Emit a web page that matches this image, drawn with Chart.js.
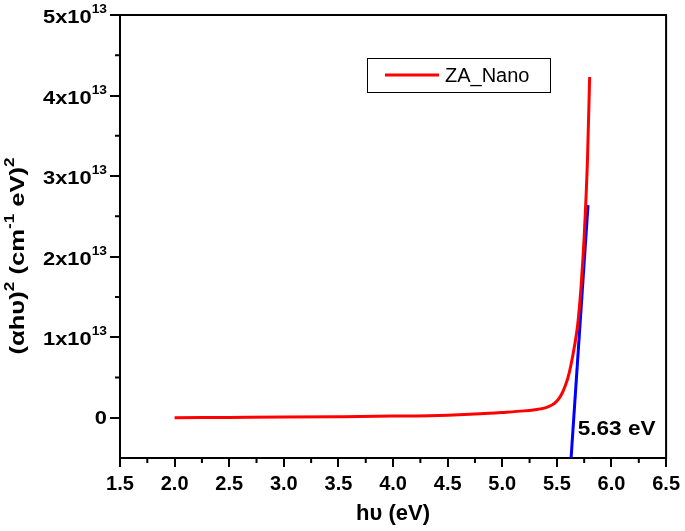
<!DOCTYPE html>
<html>
<head>
<meta charset="utf-8">
<script src="https://cdn.jsdelivr.net/npm/chart.js@4.4.1/dist/chart.umd.min.js"></script>
<style>
    body { margin: 0; background: #ffffff; }
    #chart_area { width: 685px; height: 531px; }
</style>
</head>
<body>
<div id="chart_area"><canvas id="tauc"></canvas></div>
<script>
// Photon energy (eV) and (alpha h nu)^2
var energy = [2.0, 2.5, 3.0, 3.5, 4.0, 4.5, 4.8, 5.0, 5.2, 5.3, 5.35, 5.4, 5.45, 5.48, 5.52, 5.55, 5.58, 5.6, 5.63, 5.66, 5.69, 5.72, 5.75, 5.78, 5.80];
var absorption = [0, 0.004e13, 0.008e13, 0.013e13, 0.02e13, 0.032e13, 0.048e13, 0.065e13, 0.085e13, 0.10e13, 0.11e13, 0.125e13,
    0.155e13, 0.18e13, 0.24e13, 0.31e13, 0.41e13, 0.49e13, 0.66e13, 0.88e13, 1.15e13, 1.6e13, 2.25e13, 3.2e13, 4.23e13];

// Linear fit of the absorption edge
var fitEnergy = [5.63, 5.785];
var fitValues = [-0.5e13, 2.64e13];

// Axis ticks
var xTicks = [1.5, 2.0, 2.5, 3.0, 3.5, 4.0, 4.5, 5.0, 5.5, 6.0, 6.5];
var yTicks = [0, 1e13, 2e13, 3e13, 4e13, 5e13];
var yExponent = 13;

var seriesName = "ZA_Nano";
var gapLabel = "5.63 eV";
var gapLabelAt = [5.69, -0.15e13];

var fontName = "'Liberation Sans', Arial, sans-serif";

/**
 * Draws text made of pieces, some of them raised as superscripts,
 * from x to the right on the baseline y (stretch widens the glyphs).
 */
function draw_pieces(ctx, pieces, x, y, mainSize, supSize, rise, stretch) {
    ctx.save();
    ctx.translate(x, y);
    ctx.scale(stretch, 1);
    let pos = 0;
    pieces.forEach(function (p) {
        ctx.font = "bold " + (p.sup ? supSize : mainSize) + "px " + fontName;
        ctx.fillText(p.t, pos, p.sup ? -rise : 0);
        pos += ctx.measureText(p.t).width;
    });
    ctx.restore();
}

function pieces_width(ctx, pieces, mainSize, supSize, stretch) {
    let w = 0;
    pieces.forEach(function (p) {
        ctx.font = "bold " + (p.sup ? supSize : mainSize) + "px " + fontName;
        w += ctx.measureText(p.t).width;
    });
    return w * stretch;
}

// Frame, minor ticks, y labels with exponents, y title, legend and gap label
const decorPlugin = {
    id: "decor",
    afterDraw: function (chart) {
        const ctx = chart.ctx;
        const area = chart.chartArea;
        const xs = chart.scales.x;
        const ys = chart.scales.y;
        ctx.save();

        // top and right edges of the box
        ctx.strokeStyle = "#000000";
        ctx.lineWidth = 2;
        ctx.beginPath();
        ctx.moveTo(area.left - 1, area.top);
        ctx.lineTo(area.right, area.top);
        ctx.lineTo(area.right, area.bottom + 1);
        ctx.stroke();

        // minor ticks halfway between the major ones
        ctx.beginPath();
        for (let i = 0; i < xTicks.length - 1; i++) {
            const px = xs.getPixelForValue((xTicks[i] + xTicks[i + 1]) / 2);
            ctx.moveTo(px, area.bottom);
            ctx.lineTo(px, area.bottom + 5);
        }
        for (let i = 0; i < yTicks.length - 1; i++) {
            const py = ys.getPixelForValue((yTicks[i] + yTicks[i + 1]) / 2);
            ctx.moveTo(area.left, py);
            ctx.lineTo(area.left - 5, py);
        }
        ctx.stroke();

        // y tick labels, e.g. 3x10^13
        ctx.fillStyle = "#000000";
        ctx.textAlign = "left";
        ctx.textBaseline = "alphabetic";
        const labelRight = area.left - 13;
        ys.ticks.forEach(function (tick) {
            const py = ys.getPixelForValue(tick.value);
            let pieces;
            if (tick.value === 0) {
                pieces = [{ t: "0", sup: false }];
            } else {
                const m = Math.round(tick.value / Math.pow(10, yExponent));
                pieces = [{ t: m + "x10", sup: false }, { t: String(yExponent), sup: true }];
            }
            const w = pieces_width(ctx, pieces, 19, 12, 1.15);
            const base = tick.value === 0 ? py + 6 : py + 8;
            draw_pieces(ctx, pieces, labelRight - w, base, 19, 12, 10, 1.15);
        });

        // y axis title
        const title = [
            { t: "(\u03b1h\u03c5)", sup: false }, { t: "2", sup: true },
            { t: " (cm", sup: false }, { t: "-1", sup: true },
            { t: " eV)", sup: false }, { t: "2", sup: true }
        ];
        ctx.save();
        ctx.translate(24, 256);
        ctx.rotate(-Math.PI / 2);
        const tw = pieces_width(ctx, title, 21, 14, 1.22);
        draw_pieces(ctx, title, -tw / 2, 0, 21, 14, 10, 1.22);
        ctx.restore();

        // legend box
        const lx = area.left + 247;
        const ly = area.top + 43;
        ctx.lineWidth = 1;
        ctx.strokeRect(lx + 0.5, ly + 0.5, 183, 34);
        ctx.strokeStyle = chart.data.datasets[0].borderColor;
        ctx.lineWidth = 3;
        ctx.beginPath();
        ctx.moveTo(lx + 18, ly + 17);
        ctx.lineTo(lx + 72, ly + 17);
        ctx.stroke();
        ctx.font = "20px " + fontName;
        ctx.textBaseline = "middle";
        ctx.fillText(chart.data.datasets[0].label, lx + 78, ly + 18);

        // band gap value
        draw_pieces(ctx, [{ t: gapLabel, sup: false }], xs.getPixelForValue(gapLabelAt[0]),
            ys.getPixelForValue(gapLabelAt[1]), 20, 12, 0, 1.13);

        ctx.restore();
    }
};

function create_chart(canvasId) {
    new Chart(canvasId, {
        type: "line",
        data: {
            datasets: [{
                label: seriesName,
                data: energy.map(function (e, i) { return { x: e, y: absorption[i] }; }),
                borderColor: "#ff0000",
                borderWidth: 3,
                pointRadius: 0,
                cubicInterpolationMode: "monotone"
            }, {
                label: "fit",
                data: fitEnergy.map(function (e, i) { return { x: e, y: fitValues[i] }; }),
                borderColor: "#0000ff",
                borderWidth: 3,
                pointRadius: 0
            }]
        },
        options: {
            responsive: true,
            maintainAspectRatio: false,
            animation: false,
            layout: { padding: { top: 15, right: 17, bottom: 0, left: 0 } },
            plugins: {
                legend: { display: false },
                tooltip: { enabled: false }
            },
            scales: {
                x: {
                    type: "linear",
                    min: 1.5,
                    max: 6.5,
                    afterBuildTicks: function (scale) {
                        scale.ticks = xTicks.map(function (v) { return { value: v }; });
                    },
                    afterFit: function (scale) { scale.height = 73; },
                    grid: { drawOnChartArea: false, drawTicks: true, tickLength: 9, color: "#000000", lineWidth: 2 },
                    border: { display: true, color: "#000000", width: 2 },
                    ticks: {
                        color: "#000000",
                        font: { family: fontName, size: 20, weight: "bold" },
                        padding: 5,
                        maxRotation: 0,
                        callback: function (v) { return Number(v).toFixed(1); }
                    },
                    title: {
                        display: true,
                        text: "h\u03c5 (eV)",
                        color: "#000000",
                        font: { family: fontName, size: 22, weight: "bold" },
                        padding: { top: 0, bottom: 4 }
                    }
                },
                y: {
                    type: "linear",
                    min: -0.5e13,
                    max: 5e13,
                    afterBuildTicks: function (scale) {
                        scale.ticks = yTicks.map(function (v) { return { value: v }; });
                    },
                    afterFit: function (scale) { scale.width = 120; },
                    grid: { drawOnChartArea: false, drawTicks: true, tickLength: 10, color: "#000000", lineWidth: 2 },
                    border: { display: true, color: "#000000", width: 2 },
                    ticks: { display: false }
                }
            }
        },
        plugins: [decorPlugin]
    });
}

create_chart("tauc");
</script>
</body>
</html>
